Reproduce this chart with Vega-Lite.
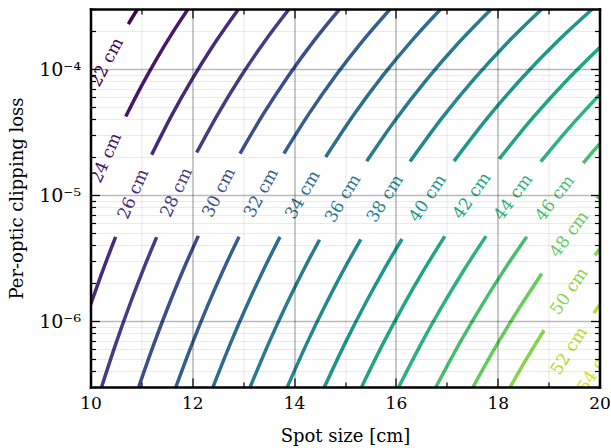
{
  "$schema": "https://vega.github.io/schema/vega-lite/v6.json",
  "width": 509,
  "height": 378,
  "autosize": {"type": "none"},
  "padding": {"left": 90.5, "top": 9, "right": 11.5, "bottom": 61},
  "background": "white",
  "config": {"view": {"stroke": null}, "font": "DejaVu Serif"},
  "datasets": {
    "curves": [
      {"D": 22, "seg": "22u", "s": 10.743, "loss": 2.277e-4},
      {"D": 22, "seg": "22u", "s": 10.83, "loss": 2.604e-4},
      {"D": 22, "seg": "22u", "s": 10.924, "loss": 3.0e-4},
      {"D": 24, "seg": "24u", "s": 10.692, "loss": 4.203e-5},
      {"D": 24, "seg": "24u", "s": 11.0, "loss": 7.333e-5},
      {"D": 24, "seg": "24u", "s": 11.3, "loss": 1.208e-4},
      {"D": 24, "seg": "24u", "s": 11.6, "loss": 1.913e-4},
      {"D": 24, "seg": "24u", "s": 11.917, "loss": 3.0e-4},
      {"D": 26, "seg": "26l", "s": 10.0, "loss": 1.344e-6},
      {"D": 26, "seg": "26l", "s": 10.25, "loss": 2.578e-6},
      {"D": 26, "seg": "26l", "s": 10.495, "loss": 4.669e-6},
      {"D": 26, "seg": "26u", "s": 11.202, "loss": 2.093e-5},
      {"D": 26, "seg": "26u", "s": 11.6, "loss": 4.329e-5},
      {"D": 26, "seg": "26u", "s": 12.0, "loss": 8.363e-5},
      {"D": 26, "seg": "26u", "s": 12.4, "loss": 1.518e-4},
      {"D": 26, "seg": "26u", "s": 12.91, "loss": 3.0e-4},
      {"D": 28, "seg": "28l", "s": 10.218, "loss": 3.0e-7},
      {"D": 28, "seg": "28l", "s": 10.5, "loss": 6.659e-7},
      {"D": 28, "seg": "28l", "s": 10.8, "loss": 1.451e-6},
      {"D": 28, "seg": "28l", "s": 11.05, "loss": 2.648e-6},
      {"D": 28, "seg": "28l", "s": 11.3, "loss": 4.646e-6},
      {"D": 28, "seg": "28u", "s": 12.086, "loss": 2.178e-5},
      {"D": 28, "seg": "28u", "s": 12.5, "loss": 4.383e-5},
      {"D": 28, "seg": "28u", "s": 12.95, "loss": 8.698e-5},
      {"D": 28, "seg": "28u", "s": 13.4, "loss": 1.613e-4},
      {"D": 28, "seg": "28u", "s": 13.903, "loss": 3.0e-4},
      {"D": 30, "seg": "30l", "s": 10.947, "loss": 3.0e-7},
      {"D": 30, "seg": "30l", "s": 11.25, "loss": 6.659e-7},
      {"D": 30, "seg": "30l", "s": 11.55, "loss": 1.38e-6},
      {"D": 30, "seg": "30l", "s": 11.85, "loss": 2.71e-6},
      {"D": 30, "seg": "30l", "s": 12.118, "loss": 4.749e-6},
      {"D": 30, "seg": "30u", "s": 12.937, "loss": 2.134e-5},
      {"D": 30, "seg": "30u", "s": 13.4, "loss": 4.43e-5},
      {"D": 30, "seg": "30u", "s": 13.9, "loss": 8.995e-5},
      {"D": 30, "seg": "30u", "s": 14.4, "loss": 1.699e-4},
      {"D": 30, "seg": "30u", "s": 14.896, "loss": 3.0e-4},
      {"D": 32, "seg": "32l", "s": 11.677, "loss": 3.0e-7},
      {"D": 32, "seg": "32l", "s": 12.0, "loss": 6.659e-7},
      {"D": 32, "seg": "32l", "s": 12.3, "loss": 1.321e-6},
      {"D": 32, "seg": "32l", "s": 12.6, "loss": 2.498e-6},
      {"D": 32, "seg": "32l", "s": 12.917, "loss": 4.67e-6},
      {"D": 32, "seg": "32u", "s": 13.8, "loss": 2.136e-5},
      {"D": 32, "seg": "32u", "s": 14.3, "loss": 4.472e-5},
      {"D": 32, "seg": "32u", "s": 14.8, "loss": 8.698e-5},
      {"D": 32, "seg": "32u", "s": 15.3, "loss": 1.587e-4},
      {"D": 32, "seg": "32u", "s": 15.889, "loss": 3.0e-4},
      {"D": 34, "seg": "34l", "s": 12.407, "loss": 3.0e-7},
      {"D": 34, "seg": "34l", "s": 12.75, "loss": 6.659e-7},
      {"D": 34, "seg": "34l", "s": 13.05, "loss": 1.271e-6},
      {"D": 34, "seg": "34l", "s": 13.4, "loss": 2.559e-6},
      {"D": 34, "seg": "34l", "s": 13.723, "loss": 4.659e-6},
      {"D": 34, "seg": "34u", "s": 14.62, "loss": 2.006e-5},
      {"D": 34, "seg": "34u", "s": 15.2, "loss": 4.508e-5},
      {"D": 34, "seg": "34u", "s": 15.75, "loss": 8.959e-5},
      {"D": 34, "seg": "34u", "s": 16.3, "loss": 1.663e-4},
      {"D": 34, "seg": "34u", "s": 16.882, "loss": 3.0e-4},
      {"D": 36, "seg": "36l", "s": 13.137, "loss": 3.0e-7},
      {"D": 36, "seg": "36l", "s": 13.5, "loss": 6.659e-7},
      {"D": 36, "seg": "36l", "s": 13.85, "loss": 1.354e-6},
      {"D": 36, "seg": "36l", "s": 14.2, "loss": 2.614e-6},
      {"D": 36, "seg": "36l", "s": 14.5, "loss": 4.425e-6},
      {"D": 36, "seg": "36u", "s": 15.426, "loss": 1.86e-5},
      {"D": 36, "seg": "36u", "s": 16.0, "loss": 4.006e-5},
      {"D": 36, "seg": "36u", "s": 16.6, "loss": 8.219e-5},
      {"D": 36, "seg": "36u", "s": 17.2, "loss": 1.567e-4},
      {"D": 36, "seg": "36u", "s": 17.876, "loss": 3.0e-4},
      {"D": 38, "seg": "38l", "s": 13.867, "loss": 3.0e-7},
      {"D": 38, "seg": "38l", "s": 14.25, "loss": 6.659e-7},
      {"D": 38, "seg": "38l", "s": 14.6, "loss": 1.306e-6},
      {"D": 38, "seg": "38l", "s": 14.95, "loss": 2.445e-6},
      {"D": 38, "seg": "38l", "s": 15.31, "loss": 4.456e-6},
      {"D": 38, "seg": "38u", "s": 16.277, "loss": 1.845e-5},
      {"D": 38, "seg": "38u", "s": 16.9, "loss": 4.06e-5},
      {"D": 38, "seg": "38u", "s": 17.55, "loss": 8.467e-5},
      {"D": 38, "seg": "38u", "s": 18.2, "loss": 1.635e-4},
      {"D": 38, "seg": "38u", "s": 18.868, "loss": 3.0e-4},
      {"D": 40, "seg": "40l", "s": 14.596, "loss": 3.0e-7},
      {"D": 40, "seg": "40l", "s": 15.0, "loss": 6.659e-7},
      {"D": 40, "seg": "40l", "s": 15.4, "loss": 1.38e-6},
      {"D": 40, "seg": "40l", "s": 15.75, "loss": 2.498e-6},
      {"D": 40, "seg": "40l", "s": 16.12, "loss": 4.485e-6},
      {"D": 40, "seg": "40u", "s": 17.141, "loss": 1.862e-5},
      {"D": 40, "seg": "40u", "s": 17.8, "loss": 4.109e-5},
      {"D": 40, "seg": "40u", "s": 18.5, "loss": 8.698e-5},
      {"D": 40, "seg": "40u", "s": 19.2, "loss": 1.699e-4},
      {"D": 40, "seg": "40u", "s": 19.861, "loss": 3.0e-4},
      {"D": 42, "seg": "42l", "s": 15.326, "loss": 3.0e-7},
      {"D": 42, "seg": "42l", "s": 15.75, "loss": 6.659e-7},
      {"D": 42, "seg": "42l", "s": 16.15, "loss": 1.335e-6},
      {"D": 42, "seg": "42l", "s": 16.55, "loss": 2.547e-6},
      {"D": 42, "seg": "42l", "s": 16.96, "loss": 4.714e-6},
      {"D": 42, "seg": "42u", "s": 18.03, "loss": 1.935e-5},
      {"D": 42, "seg": "42u", "s": 18.7, "loss": 4.153e-5},
      {"D": 42, "seg": "42u", "s": 19.35, "loss": 8.088e-5},
      {"D": 42, "seg": "42u", "s": 20.0, "loss": 1.478e-4},
      {"D": 44, "seg": "44l", "s": 16.056, "loss": 3.0e-7},
      {"D": 44, "seg": "44l", "s": 16.5, "loss": 6.659e-7},
      {"D": 44, "seg": "44l", "s": 16.9, "loss": 1.295e-6},
      {"D": 44, "seg": "44l", "s": 17.35, "loss": 2.593e-6},
      {"D": 44, "seg": "44l", "s": 17.77, "loss": 4.729e-6},
      {"D": 44, "seg": "44u", "s": 18.845, "loss": 1.841e-5},
      {"D": 44, "seg": "44u", "s": 19.4, "loss": 3.403e-5},
      {"D": 44, "seg": "44u", "s": 20.0, "loss": 6.252e-5},
      {"D": 46, "seg": "46l", "s": 16.786, "loss": 3.0e-7},
      {"D": 46, "seg": "46l", "s": 17.25, "loss": 6.659e-7},
      {"D": 46, "seg": "46l", "s": 17.7, "loss": 1.36e-6},
      {"D": 46, "seg": "46l", "s": 18.15, "loss": 2.635e-6},
      {"D": 46, "seg": "46l", "s": 18.57, "loss": 4.681e-6},
      {"D": 46, "seg": "46u", "s": 19.68, "loss": 1.797e-5},
      {"D": 46, "seg": "46u", "s": 19.84, "loss": 2.142e-5},
      {"D": 46, "seg": "46u", "s": 20.0, "loss": 2.542e-5},
      {"D": 48, "seg": "48l", "s": 17.516, "loss": 3.0e-7},
      {"D": 48, "seg": "48l", "s": 17.95, "loss": 6.15e-7},
      {"D": 48, "seg": "48l", "s": 18.4, "loss": 1.227e-6},
      {"D": 48, "seg": "48l", "s": 18.865, "loss": 2.381e-6},
      {"D": 48, "seg": "48u", "s": 19.95, "loss": 9.371e-6},
      {"D": 48, "seg": "48u", "s": 20.0, "loss": 9.93e-6},
      {"D": 50, "seg": "50l", "s": 18.245, "loss": 3.0e-7},
      {"D": 50, "seg": "50l", "s": 18.58, "loss": 5.126e-7},
      {"D": 50, "seg": "50l", "s": 18.91, "loss": 8.459e-7},
      {"D": 50, "seg": "50u", "s": 19.91, "loss": 3.327e-6},
      {"D": 50, "seg": "50u", "s": 20.0, "loss": 3.726e-6},
      {"D": 52, "seg": "52u", "s": 19.89, "loss": 1.157e-6},
      {"D": 52, "seg": "52u", "s": 20.0, "loss": 1.344e-6}
    ],
    "labels": [
      {"D": 22, "s": 10.32, "loss": 1.129e-4, "label": "22 cm"},
      {"D": 24, "s": 10.31, "loss": 1.965e-5, "label": "24 cm"},
      {"D": 26, "s": 10.845, "loss": 1.018e-5, "label": "26 cm"},
      {"D": 28, "s": 11.693, "loss": 1.046e-5, "label": "28 cm"},
      {"D": 30, "s": 12.528, "loss": 1.046e-5, "label": "30 cm"},
      {"D": 32, "s": 13.359, "loss": 1.038e-5, "label": "32 cm"},
      {"D": 34, "s": 14.172, "loss": 1.002e-5, "label": "34 cm"},
      {"D": 36, "s": 14.963, "loss": 9.378e-6, "label": "36 cm"},
      {"D": 38, "s": 15.794, "loss": 9.376e-6, "label": "38 cm"},
      {"D": 40, "s": 16.631, "loss": 9.45e-6, "label": "40 cm"},
      {"D": 42, "s": 17.495, "loss": 9.864e-6, "label": "42 cm"},
      {"D": 44, "s": 18.308, "loss": 9.618e-6, "label": "44 cm"},
      {"D": 46, "s": 19.125, "loss": 9.443e-6, "label": "46 cm"},
      {"D": 48, "s": 19.41, "loss": 4.878e-6, "label": "48 cm"},
      {"D": 50, "s": 19.41, "loss": 1.723e-6, "label": "50 cm"},
      {"D": 52, "s": 19.405, "loss": 5.79e-7, "label": "52 cm"},
      {"D": 54, "s": 19.93, "loss": 4.201e-7, "label": "54 cm"}
    ]
  },
  "resolve": {"axis": {"x": "independent", "y": "independent"}},
  "layer": [
    {
      "data": {"name": "curves"},
      "mark": {"type": "line", "strokeWidth": 3.5, "clip": true, "interpolate": "monotone"},
      "encoding": {
        "x": {
          "field": "s", "type": "quantitative",
          "scale": {"domain": [10, 20], "nice": false, "zero": false},
          "axis": {
            "orient": "bottom",
            "values": [10, 11, 12, 13, 14, 15, 16, 17, 18, 19, 20],
            "labelExpr": "datum.value % 2 == 0 ? format(datum.value, 'd') : ''",
            "labelFlush": false, "labelOverlap": false, "labelBound": false,
            "labelFont": "DejaVu Serif", "labelFontSize": 17, "labelColor": "black", "labelPadding": 17,
            "title": "Spot size [cm]", "titleFont": "DejaVu Serif", "titleFontSize": 18, "titleFontWeight": "normal", "titleColor": "black", "titlePadding": 12,
            "domain": true, "domainColor": "black", "domainWidth": 2.5, "domainCap": "square",
            "ticks": true, "tickColor": "black", "tickWidth": 1.2,
            "tickSize": {"condition": {"test": "datum.value % 2 == 0", "value": -9}, "value": -5},
            "grid": true, "gridColor": "black",
            "gridOpacity": {"condition": {"test": "datum.value % 2 == 0", "value": 0.27}, "value": 0.08},
            "gridWidth": {"condition": {"test": "datum.value % 2 == 0", "value": 1.6}, "value": 1.2},
            "zindex": 1
          }
        },
        "y": {
          "field": "loss", "type": "quantitative",
          "scale": {"type": "log", "domain": [3e-7, 3e-4], "nice": false},
          "axis": {
            "orient": "left",
            "values": [3e-7, 4e-7, 5e-7, 6e-7, 7e-7, 8e-7, 9e-7, 1e-6, 2e-6, 3e-6, 4e-6, 5e-6, 6e-6, 7e-6, 8e-6, 9e-6, 1e-5, 2e-5, 3e-5, 4e-5, 5e-5, 6e-5, 7e-5, 8e-5, 9e-5, 1e-4, 2e-4, 3e-4],
            "labelExpr": "datum.value == 1e-4 ? '10⁻⁴' : datum.value == 1e-5 ? '10⁻⁵' : datum.value == 1e-6 ? '10⁻⁶' : ''",
            "labelOverlap": false, "labelBound": false, "labelFlush": false,
            "labelFont": "DejaVu Serif", "labelFontSize": 19, "labelColor": "black", "labelPadding": 19,
            "title": "Per-optic clipping loss", "titleFont": "DejaVu Serif", "titleFontSize": 18, "titleFontWeight": "normal", "titleColor": "black", "titlePadding": 12,
            "domain": true, "domainColor": "black", "domainWidth": 2.5, "domainCap": "square",
            "ticks": true, "tickColor": "black", "tickWidth": 1.2,
            "tickSize": {"condition": {"test": "datum.value == 1e-6 || datum.value == 1e-5 || datum.value == 1e-4", "value": -9}, "value": -5},
            "grid": true, "gridColor": "black",
            "gridOpacity": {"condition": {"test": "datum.value == 1e-6 || datum.value == 1e-5 || datum.value == 1e-4", "value": 0.27}, "value": 0.08},
            "gridWidth": {"condition": {"test": "datum.value == 1e-6 || datum.value == 1e-5 || datum.value == 1e-4", "value": 1.6}, "value": 1.2},
            "zindex": 1
          }
        },
        "color": {"field": "D", "type": "quantitative", "scale": {"scheme": "viridis", "domain": [22, 56]}, "legend": null},
        "detail": {"field": "seg", "type": "nominal"}
      }
    },
    {
      "data": {"name": "labels"},
      "mark": {"type": "text", "fontSize": 17, "font": "DejaVu Serif", "align": "center", "baseline": "middle", "clip": true},
      "encoding": {
        "x": {
          "field": "s", "type": "quantitative",
          "axis": {
            "orient": "top",
            "values": [10, 11, 12, 13, 14, 15, 16, 17, 18, 19, 20],
            "labels": false, "title": null, "grid": false,
            "domain": true, "domainColor": "black", "domainWidth": 2.5, "domainCap": "square",
            "ticks": true, "tickColor": "black", "tickWidth": 1.2,
            "tickSize": {"condition": {"test": "datum.value % 2 == 0", "value": -9}, "value": -5},
            "zindex": 1
          }
        },
        "y": {
          "field": "loss", "type": "quantitative",
          "axis": {
            "orient": "right",
            "values": [3e-7, 4e-7, 5e-7, 6e-7, 7e-7, 8e-7, 9e-7, 1e-6, 2e-6, 3e-6, 4e-6, 5e-6, 6e-6, 7e-6, 8e-6, 9e-6, 1e-5, 2e-5, 3e-5, 4e-5, 5e-5, 6e-5, 7e-5, 8e-5, 9e-5, 1e-4, 2e-4, 3e-4],
            "labels": false, "title": null, "grid": false,
            "domain": true, "domainColor": "black", "domainWidth": 2.5, "domainCap": "square",
            "ticks": true, "tickColor": "black", "tickWidth": 1.2,
            "tickSize": {"condition": {"test": "datum.value == 1e-6 || datum.value == 1e-5 || datum.value == 1e-4", "value": -9}, "value": -5},
            "zindex": 1
          }
        },
        "text": {"field": "label", "type": "nominal"},
        "color": {"field": "D", "type": "quantitative", "scale": {"scheme": "viridis", "domain": [22, 56]}, "legend": null},
        "angle": {
          "field": "D", "type": "quantitative",
          "scale": {
            "domain": [22, 24, 26, 28, 30, 32, 34, 36, 38, 40, 42, 44, 46, 48, 50, 52, 54],
            "range": [-62.2, -66.2, -66.4, -64.7, -63.1, -61.6, -60.3, -59.1, -57.7, -56.3, -54.9, -53.7, -52.5, -53.6, -55.8, -57.9, -57.8]
          }
        }
      }
    }
  ]
}
